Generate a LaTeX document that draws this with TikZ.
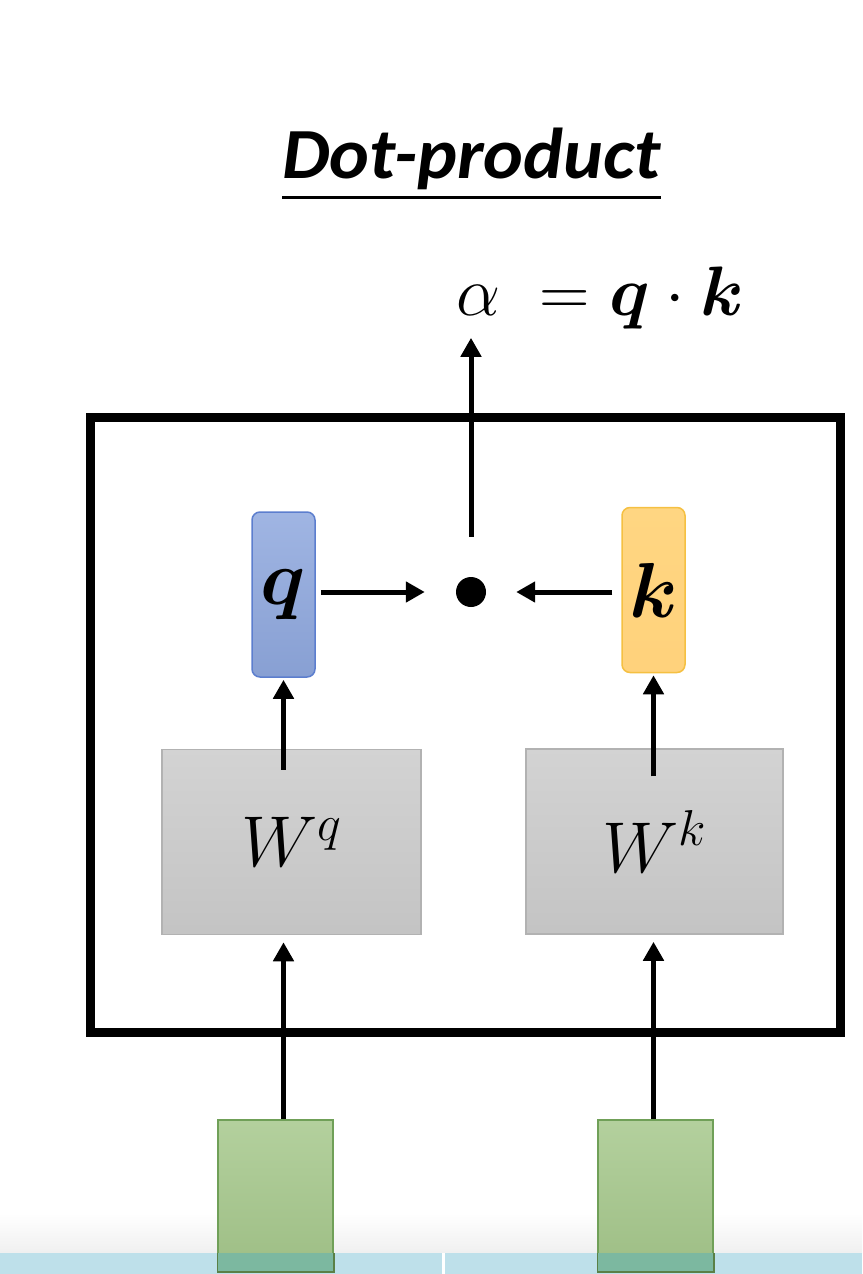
\RequirePackage{fix-cm}
\documentclass[tikz,border=0pt]{standalone}
\usepackage{amsmath,amssymb,bm}
\usepackage{fontspec}
\usepackage{xcolor}
\usetikzlibrary{arrows.meta,positioning}
\newfontfamily\titlefont{Carlito}
\definecolor{qfill}{RGB}{143,168,222}
\definecolor{qline}{RGB}{92,126,206}
\definecolor{kfill}{RGB}{255,214,130}
\definecolor{kline}{RGB}{245,192,66}
\definecolor{wfill}{RGB}{206,206,206}
\definecolor{wline}{RGB}{178,178,178}
\definecolor{xfill}{RGB}{166,200,140}
\definecolor{xline}{RGB}{112,160,88}
\definecolor{band}{RGB}{190,224,234}
\definecolor{xband}{RGB}{124,184,160}

\begin{document}
\begin{tikzpicture}[x=1pt, y=-1pt,
  vecbox/.style={draw, line width=1.5pt, rounded corners=8pt, minimum width=63pt,
                 minimum height=165pt, inner sep=0pt, font=\fontsize{78}{80}\selectfont},
  qbox/.style={vecbox, draw=qline, top color=qfill!85!white, bottom color=qfill!95!black},
  kbox/.style={vecbox, draw=kline, top color=kfill, bottom color=kfill!95!orange},
  wbox/.style={draw=wline, line width=1.5pt, top color=wfill!90!white, bottom color=wfill!95!black,
               minimum height=185pt, inner sep=0pt, font=\fontsize{72}{74}\selectfont},
  xbox/.style={draw=xline, line width=1.5pt, top color=xfill!85!white, bottom color=xfill!95!black,
               minimum width=115pt, minimum height=151pt, inner sep=0pt},
  arr/.style={-{Triangle[length=19pt,width=20pt]}, line width=5pt},
  node distance=40pt and 60pt
]
\useasboundingbox (0,0) rectangle (862,1274);
\fill[top color=white, bottom color=black!6] (0,1213) rectangle (862,1253);

% title
\node[anchor=base west, inner sep=0pt, font=\titlefont\bfseries\itshape\fontsize{72}{74}\selectfont]
  (title) at (282,178) {\scalebox{1.05}[1]{Dot-product}};
\draw[line width=3pt] (title.base west) ++(0,19) coordinate (ul) -- (ul -| title.east);

% frame and inner parts
\node[draw, line width=9pt, minimum width=749.5pt, minimum height=615pt] (frame) at (465.25,724.5) {};
\node[circle, fill=black, minimum size=30pt, inner sep=0pt] (dot) at (471,592) {};
\node[qbox] (qvec) at (283.5,594.5) {$\bm{q}$};
\node[kbox] (kvec) at (653.5,590) {$\bm{k}$};
\node[wbox, minimum width=259pt] (Wq) at (291.5,842) {$W^{q}$\hspace{20pt}};
\node[wbox, minimum width=257pt] (Wk) at (654.5,841.5) {$W^{k}$\hspace{10pt}};
\node[xbox] (xq) at (275.5,1195.5) {};
\node[xbox] (xk) at (655.5,1195.5) {};
\node[anchor=base, inner sep=0pt, font=\fontsize{70}{72}\selectfont] (alpha) at (600,315)
  {$\alpha\;=\bm{q}\cdot\bm{k}$};

% connectors
\draw[arr, shorten <=40pt, shorten >=9pt] (dot.north) -- (dot.north |- alpha.south);
\draw[arr, shorten <=5pt, shorten >=31pt] (qvec.east |- dot) -- (dot.west);
\draw[arr, shorten <=9pt, shorten >=30pt] (kvec.west |- dot) -- (dot.east);
\draw[arr, shorten >=2pt] ([yshift=-21pt]Wq.north -| qvec) -- (qvec.south);
\draw[arr, shorten >=2pt] ([yshift=-28pt]Wk.north -| kvec) -- (kvec.south);
\draw[arr, shorten >=7pt] (xq.north -| qvec) -- (Wq.south -| qvec);
\draw[arr, shorten >=7pt] (xk.north -| kvec) -- (Wk.south -| kvec);

% bottom band
\fill[band] (0,1253) rectangle (862,1274);
\fill[xband] (xq.south west) rectangle (xq.east |- 0,1253);
\fill[xband] (xk.south west) rectangle (xk.east |- 0,1253);
\draw[xline!80!black, line width=1.5pt] (xq.west |- 0,1253) -- (xq.south west) -- (xq.south east) -- (xq.east |- 0,1253);
\draw[xline!80!black, line width=1.5pt] (xk.west |- 0,1253) -- (xk.south west) -- (xk.south east) -- (xk.east |- 0,1253);
\fill[white] (442,1253) rectangle (445,1274);
\end{tikzpicture}
\end{document}
